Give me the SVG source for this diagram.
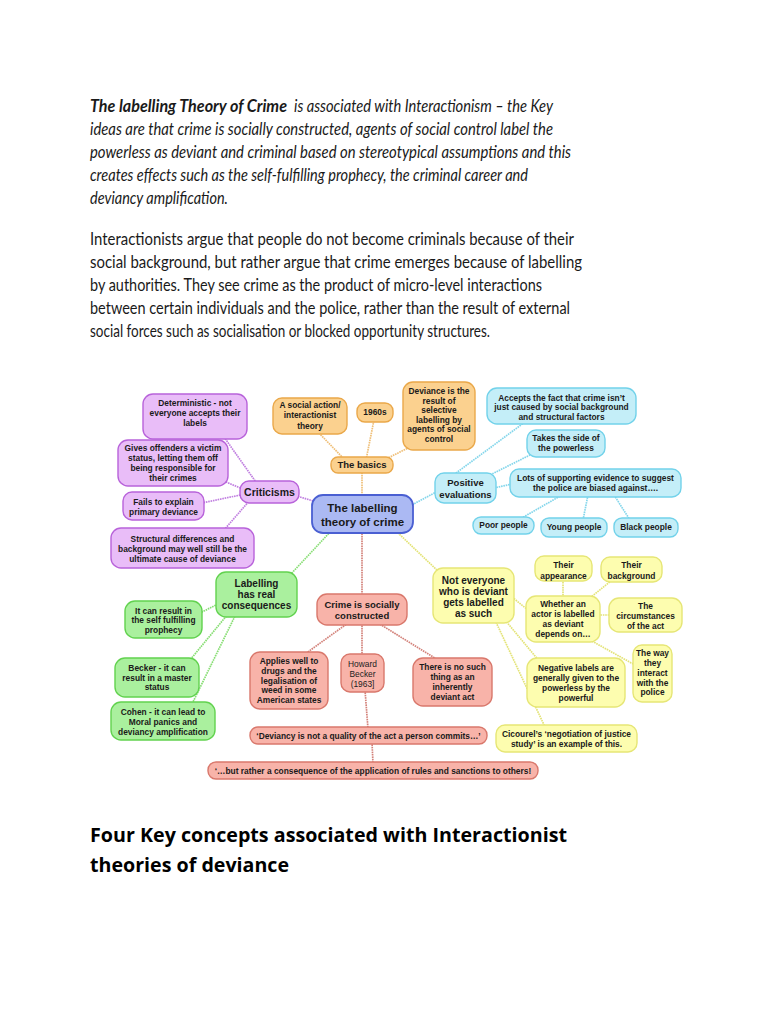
<svg xmlns="http://www.w3.org/2000/svg" width="768" height="1024" viewBox="0 0 768 1024">
<defs>
<style>
.p{font-family:Lato,"Liberation Sans",sans-serif;font-size:16.5px;fill:#1a1a1a}
.it{font-style:italic}
.h{font-family:"Open Sans","Liberation Sans",sans-serif;font-size:20px;font-weight:bold;fill:#000}
.n text{font-family:"Liberation Sans",Arial,sans-serif;font-size:8.4px;font-weight:bold;fill:#1a1a1a;text-anchor:middle}
.n rect{stroke-width:1.4}
.pu rect{fill:#e9bdf8;stroke:#b863da}
.or rect{fill:#fbd18f;stroke:#eaa84a}
.cy rect{fill:#c4eef8;stroke:#72d2ea}
.gr rect{fill:#aaf09e;stroke:#62d24f}
.rd rect{fill:#f8b3a9;stroke:#d9786c}
.ye rect{fill:#fdfdaf;stroke:#e6e676}
.ce rect{fill:#abb9f3;stroke:#4a5fd2;stroke-width:1.8}
.c line{stroke-width:1.7;stroke-dasharray:1.6 0.8;fill:none}
.cpu{stroke:#c07fe0}.cor{stroke:#efbf78}.ccy{stroke:#84d6eb}.cgr{stroke:#88de74}.crd{stroke:#d3827a}.cye{stroke:#e3e376}
</style>
</defs>
<rect width="768" height="1024" fill="#ffffff"/>

<g id="intro">
<text class="p it" x="90" y="112" font-weight="bold" fill="#000" textLength="197" lengthAdjust="spacingAndGlyphs">The labelling Theory of Crime</text>
<text class="p it" x="294" y="112" textLength="259" lengthAdjust="spacingAndGlyphs">is associated with Interactionism – the Key</text>
<text class="p it" x="90" y="135" textLength="463" lengthAdjust="spacingAndGlyphs">ideas are that crime is socially constructed, agents of social control label the</text>
<text class="p it" x="90" y="158" textLength="481" lengthAdjust="spacingAndGlyphs">powerless as deviant and criminal based on stereotypical assumptions and this</text>
<text class="p it" x="90" y="181" textLength="438" lengthAdjust="spacingAndGlyphs">creates effects such as the self-fulfilling prophecy, the criminal career and</text>
<text class="p it" x="90" y="204" textLength="138" lengthAdjust="spacingAndGlyphs">deviancy amplification.</text>
</g>
<g id="para2">
<text class="p" x="90" y="245" textLength="484" lengthAdjust="spacingAndGlyphs">Interactionists argue that people do not become criminals because of their</text>
<text class="p" x="90" y="268" textLength="492" lengthAdjust="spacingAndGlyphs">social background, but rather argue that crime emerges because of labelling</text>
<text class="p" x="90" y="291" textLength="452" lengthAdjust="spacingAndGlyphs">by authorities. They see crime as the product of micro-level interactions</text>
<text class="p" x="90" y="314" textLength="480" lengthAdjust="spacingAndGlyphs">between certain individuals and the police, rather than the result of external</text>
<text class="p" x="90" y="337" textLength="400" lengthAdjust="spacingAndGlyphs">social forces such as socialisation or blocked opportunity structures.</text>
</g>

<g id="connectors" class="c">
<line class="cpu" x1="320" y1="503" x2="290" y2="494"/>
<line class="cpu" x1="258" y1="485" x2="224" y2="437"/>
<line class="cpu" x1="245" y1="490" x2="226" y2="482"/>
<line class="cpu" x1="245" y1="494" x2="202" y2="503"/>
<line class="cpu" x1="250" y1="500" x2="224" y2="530"/>
<line class="cor" x1="362" y1="470" x2="362" y2="497"/>
<line class="cor" x1="345" y1="460" x2="318" y2="432"/>
<line class="cor" x1="366" y1="460" x2="374" y2="420"/>
<line class="cor" x1="380" y1="462" x2="412" y2="446"/>
<line class="ccy" x1="410" y1="506" x2="440" y2="490"/>
<line class="ccy" x1="452" y1="476" x2="525" y2="422"/>
<line class="ccy" x1="488" y1="476" x2="532" y2="454"/>
<line class="ccy" x1="494" y1="488" x2="512" y2="484"/>
<line class="ccy" x1="562" y1="495" x2="520" y2="519"/>
<line class="ccy" x1="588" y1="495" x2="583" y2="520"/>
<line class="ccy" x1="614" y1="495" x2="630" y2="520"/>
<line class="cgr" x1="332" y1="530" x2="290" y2="575"/>
<line class="cgr" x1="220" y1="603" x2="200" y2="613"/>
<line class="cgr" x1="228" y1="614" x2="190" y2="660"/>
<line class="cgr" x1="236" y1="614" x2="192" y2="704"/>
<line class="crd" x1="362" y1="531" x2="362" y2="596"/>
<line class="crd" x1="348" y1="623" x2="305" y2="654"/>
<line class="crd" x1="362" y1="623" x2="362" y2="656"/>
<line class="crd" x1="378" y1="623" x2="438" y2="660"/>
<line class="crd" x1="365" y1="690" x2="368" y2="729"/>
<line class="crd" x1="372" y1="742" x2="373" y2="764"/>
<line class="cye" x1="396" y1="531" x2="440" y2="573"/>
<line class="cye" x1="512" y1="597" x2="528" y2="610"/>
<line class="cye" x1="505" y1="620" x2="540" y2="662"/>
<line class="cye" x1="495" y1="620" x2="545" y2="727"/>
<line class="cye" x1="563" y1="598" x2="563" y2="579"/>
<line class="cye" x1="590" y1="598" x2="612" y2="580"/>
<line class="cye" x1="598" y1="615" x2="611" y2="615"/>
<line class="cye" x1="590" y1="640" x2="635" y2="665"/>
</g>

<g id="n-central" class="n ce"><rect x="312" y="495" width="101" height="38" rx="11"/><text style="font-size:11.5px"><tspan x="362.5" y="512">The labelling</tspan><tspan x="362.5" y="526">theory of crime</tspan></text></g>

<g id="n-criticisms" class="n pu"><rect x="240" y="481" width="59" height="22" rx="9"/><text style="font-size:10.5px"><tspan x="269.5" y="496">Criticisms</tspan></text></g>
<g id="n-deterministic" class="n pu"><rect x="143" y="394" width="104" height="45" rx="10"/><text><tspan x="195" y="406">Deterministic - not</tspan><tspan x="195" y="416">everyone accepts their</tspan><tspan x="195" y="426">labels</tspan></text></g>
<g id="n-victim" class="n pu"><rect x="118" y="440" width="110" height="46" rx="10"/><text><tspan x="173" y="451">Gives offenders a victim</tspan><tspan x="173" y="461">status, letting them off</tspan><tspan x="173" y="471">being responsible for</tspan><tspan x="173" y="481">their crimes</tspan></text></g>
<g id="n-fails" class="n pu"><rect x="123" y="492" width="81" height="28" rx="9"/><text><tspan x="163.5" y="505">Fails to explain</tspan><tspan x="163.5" y="514.5">primary deviance</tspan></text></g>
<g id="n-structural" class="n pu"><rect x="111" y="528" width="143" height="40" rx="10"/><text><tspan x="182.5" y="542">Structural differences and</tspan><tspan x="182.5" y="552">background may well still be the</tspan><tspan x="182.5" y="561.5">ultimate cause of deviance</tspan></text></g>

<g id="n-basics" class="n or"><rect x="331" y="457" width="62" height="16" rx="7"/><text style="font-size:9.5px"><tspan x="362" y="468">The basics</tspan></text></g>
<g id="n-social" class="n or"><rect x="273" y="398" width="74" height="36" rx="9"/><text><tspan x="310" y="408">A social action/</tspan><tspan x="310" y="418">interactionist</tspan><tspan x="310" y="429">theory</tspan></text></g>
<g id="n-1960s" class="n or"><rect x="357" y="403" width="36" height="19" rx="8"/><text><tspan x="375" y="415">1960s</tspan></text></g>
<g id="n-deviance" class="n or"><rect x="403" y="382" width="72" height="68" rx="10"/><text><tspan x="439" y="394">Deviance is the</tspan><tspan x="439" y="403.6">result of</tspan><tspan x="439" y="413.2">selective</tspan><tspan x="439" y="422.8">labelling by</tspan><tspan x="439" y="432.4">agents of social</tspan><tspan x="439" y="442">control</tspan></text></g>

<g id="n-positive" class="n cy"><rect x="435" y="473" width="61" height="30" rx="9"/><text style="font-size:9.5px"><tspan x="465.5" y="486">Positive</tspan><tspan x="465.5" y="497.5">evaluations</tspan></text></g>
<g id="n-accepts" class="n cy"><rect x="487" y="388" width="149" height="36" rx="10"/><text><tspan x="561.5" y="401">Accepts the fact that crime isn’t</tspan><tspan x="561.5" y="410">just caused by social background</tspan><tspan x="561.5" y="419.5">and structural factors</tspan></text></g>
<g id="n-side" class="n cy"><rect x="527" y="430" width="78" height="27" rx="9"/><text><tspan x="566" y="441">Takes the side of</tspan><tspan x="566" y="451">the powerless</tspan></text></g>
<g id="n-lots" class="n cy"><rect x="510" y="469" width="171" height="28" rx="9"/><text><tspan x="595.5" y="481">Lots of supporting evidence to suggest</tspan><tspan x="595.5" y="491">the police are biased against….</tspan></text></g>
<g id="n-poor" class="n cy"><rect x="473" y="517" width="61" height="17" rx="8"/><text><tspan x="503.5" y="528">Poor people</tspan></text></g>
<g id="n-young" class="n cy"><rect x="541" y="518" width="66" height="19" rx="8"/><text><tspan x="574" y="530">Young people</tspan></text></g>
<g id="n-black" class="n cy"><rect x="614" y="518" width="64" height="19" rx="8"/><text><tspan x="646" y="530">Black people</tspan></text></g>

<g id="n-labelling" class="n gr"><rect x="216" y="572" width="81" height="45" rx="10"/><text style="font-size:10px"><tspan x="256.5" y="587">Labelling</tspan><tspan x="256.5" y="598">has real</tspan><tspan x="256.5" y="609">consequences</tspan></text></g>
<g id="n-selffulfilling" class="n gr"><rect x="125" y="601" width="77" height="37" rx="10"/><text><tspan x="163.5" y="614">It can result in</tspan><tspan x="163.5" y="623">the self fulfilling</tspan><tspan x="163.5" y="633">prophecy</tspan></text></g>
<g id="n-becker" class="n gr"><rect x="115" y="658" width="84" height="39" rx="10"/><text><tspan x="157" y="671">Becker - it can</tspan><tspan x="157" y="681">result in a master</tspan><tspan x="157" y="690">status</tspan></text></g>
<g id="n-cohen" class="n gr"><rect x="111" y="702" width="104" height="38" rx="10"/><text><tspan x="163" y="715">Cohen - it can lead to</tspan><tspan x="163" y="725">Moral panics and</tspan><tspan x="163" y="735">deviancy amplification</tspan></text></g>

<g id="n-crime" class="n rd"><rect x="317" y="594" width="90" height="31" rx="10"/><text style="font-size:9.5px"><tspan x="362" y="607.5">Crime is socially</tspan><tspan x="362" y="618.5">constructed</tspan></text></g>
<g id="n-applies" class="n rd"><rect x="250" y="652" width="78" height="57" rx="10"/><text><tspan x="289" y="664">Applies well to</tspan><tspan x="289" y="674">drugs and the</tspan><tspan x="289" y="683.5">legalisation of</tspan><tspan x="289" y="693">weed in some</tspan><tspan x="289" y="703">American states</tspan></text></g>
<g id="n-howard" class="n rd"><rect x="341" y="654" width="43" height="38" rx="9"/><text style="font-weight:normal;fill:#222"><tspan x="362.5" y="667">Howard</tspan><tspan x="362.5" y="677">Becker</tspan><tspan x="362.5" y="687">(1963]</tspan></text></g>
<g id="n-nosuch" class="n rd"><rect x="413" y="658" width="79" height="48" rx="10"/><text><tspan x="452.5" y="670">There is no such</tspan><tspan x="452.5" y="680">thing as an</tspan><tspan x="452.5" y="690">inherently</tspan><tspan x="452.5" y="699.5">deviant act</tspan></text></g>
<g id="n-quality" class="n rd"><rect x="250" y="727" width="237" height="17" rx="8"/><text><tspan x="368.5" y="738.5">‘Deviancy is not a quality of the act a person commits…’</tspan></text></g>
<g id="n-consequence" class="n rd"><rect x="208" y="762" width="330" height="17" rx="8"/><text><tspan x="373" y="773.5">‘…but rather a consequence of the application of rules and sanctions to others!</tspan></text></g>

<g id="n-noteveryone" class="n ye"><rect x="433" y="568" width="81" height="55" rx="10"/><text style="font-size:10px"><tspan x="473.5" y="583.5">Not everyone</tspan><tspan x="473.5" y="594.5">who is deviant</tspan><tspan x="473.5" y="605.5">gets labelled</tspan><tspan x="473.5" y="616.5">as such</tspan></text></g>
<g id="n-appearance" class="n ye"><rect x="535" y="556" width="57" height="25" rx="9"/><text><tspan x="563.5" y="568">Their</tspan><tspan x="563.5" y="578.5">appearance</tspan></text></g>
<g id="n-background" class="n ye"><rect x="601" y="557" width="61" height="25" rx="9"/><text><tspan x="631.5" y="568">Their</tspan><tspan x="631.5" y="578.5">background</tspan></text></g>
<g id="n-whether" class="n ye"><rect x="526" y="596" width="74" height="46" rx="10"/><text><tspan x="563" y="607">Whether an</tspan><tspan x="563" y="617">actor is labelled</tspan><tspan x="563" y="627">as deviant</tspan><tspan x="563" y="637">depends on…</tspan></text></g>
<g id="n-circumstances" class="n ye"><rect x="609" y="598" width="73" height="34" rx="10"/><text><tspan x="645.5" y="609">The</tspan><tspan x="645.5" y="619">circumstances</tspan><tspan x="645.5" y="629">of the act</tspan></text></g>
<g id="n-theway" class="n ye"><rect x="633" y="645" width="39" height="57" rx="9"/><text><tspan x="652.5" y="656">The way</tspan><tspan x="652.5" y="666">they</tspan><tspan x="652.5" y="676">interact</tspan><tspan x="652.5" y="685.5">with the</tspan><tspan x="652.5" y="695">police</tspan></text></g>
<g id="n-negative" class="n ye"><rect x="527" y="658" width="98" height="49" rx="10"/><text><tspan x="576" y="671">Negative labels are</tspan><tspan x="576" y="681">generally given to the</tspan><tspan x="576" y="691">powerless by the</tspan><tspan x="576" y="701">powerful</tspan></text></g>
<g id="n-cicourel" class="n ye"><rect x="496" y="725" width="141" height="27" rx="9"/><text><tspan x="566.5" y="737">Cicourel’s ‘negotiation of justice</tspan><tspan x="566.5" y="747">study’ is an example of this.</tspan></text></g>

<g id="heading">
<text class="h" x="90" y="842" textLength="477" lengthAdjust="spacingAndGlyphs">Four Key concepts associated with Interactionist</text>
<text class="h" x="90" y="872" textLength="199" lengthAdjust="spacingAndGlyphs">theories of deviance</text>
</g>
</svg>
